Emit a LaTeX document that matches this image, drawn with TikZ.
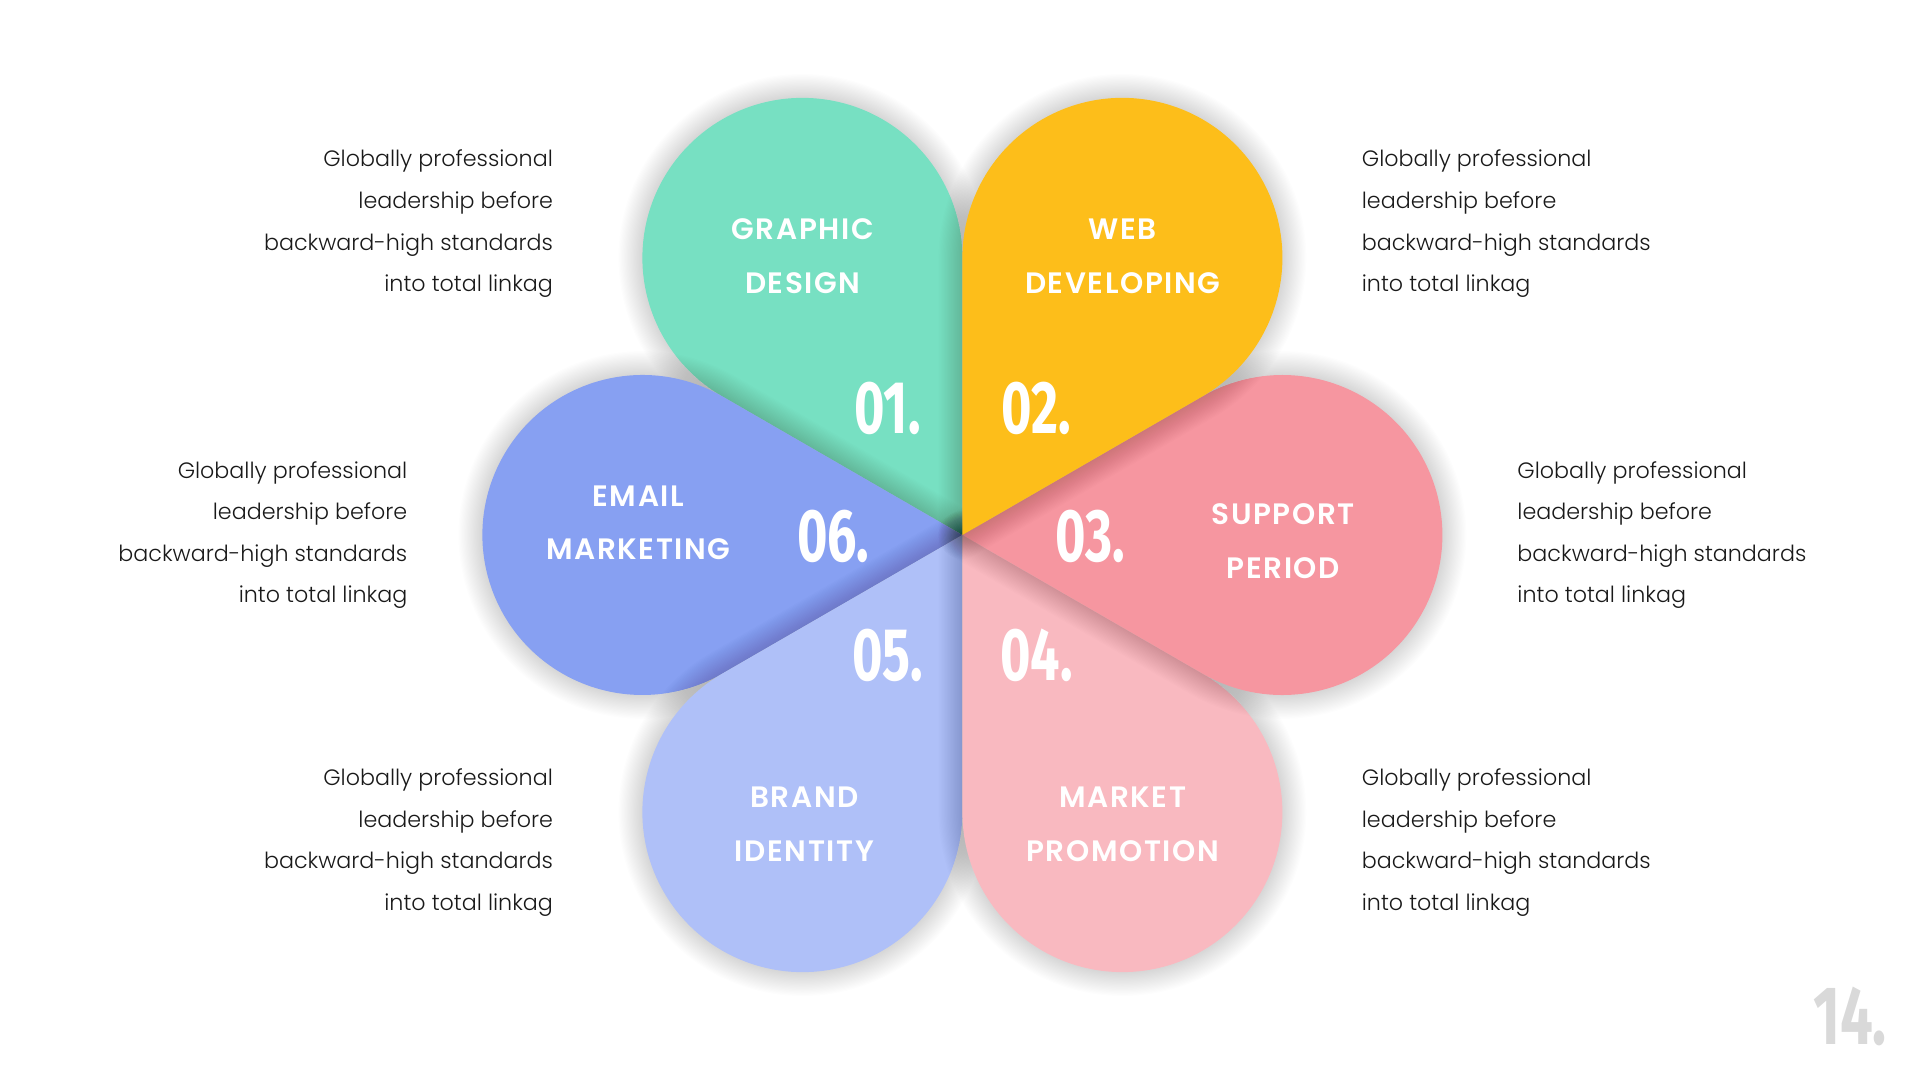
\documentclass[tikz,border=0pt]{standalone}
\usepackage{fontspec}
\setmainfont{Poppins Light}
\newfontfamily\titlefont{Poppins SemiBold}
\newfontfamily\numfont{Fira Sans}[FakeStretch=0.7]
\usepackage{tikz}

\definecolor{mint}{RGB}{119,224,194}
\definecolor{amber}{RGB}{253,190,26}
\definecolor{rose}{RGB}{246,150,160}
\definecolor{blush}{RGB}{249,185,192}
\definecolor{periwinkle}{RGB}{175,192,248}
\definecolor{cornflower}{RGB}{135,160,242}
\definecolor{pagenum}{RGB}{217,217,217}

\begin{document}
\begin{tikzpicture}[
	petalshape/.style={insert path={(0,0) -- (#1-30:6.928) arc[start angle=#1-120, end angle=#1+120, radius=4] -- cycle}},
	shadeline/.style={draw=black, opacity=0.0075, line join=round},
	title/.style={text=white, align=center, inner sep=0pt, font=\titlefont\fontsize{21}{38}\selectfont\addfontfeatures{LetterSpace=5.5}},
	num/.style={text=white, inner sep=0pt, font=\numfont\fontsize{53}{53}\selectfont\bfseries},
	desc/.style={text=black!90, inner sep=0pt, font=\fontsize{15.8}{29.6}\selectfont}]
	\useasboundingbox (-24.06,-13.625) rectangle (23.94,13.375);

	% petals, lowest first, each with its soft shadow
	\foreach \ang/\col in {120/mint, 180/cornflower, -120/periwinkle, -60/blush, 0/rose, 60/amber}{
		\foreach \k in {1,...,20}
			\path[shadeline, line width=\k*1.7pt, petalshape=\ang];
		\fill[\col, petalshape=\ang];
	}

	% titles
	\node[title] (t1) at (-3.99,6.97)  {GRAPHIC\\DESIGN};
	\node[title] (t2) at (4.01,6.97)   {WEB\\DEVELOPING};
	\node[title] (t3) at (8.02,-0.15)  {SUPPORT\\PERIOD};
	\node[title] (t4) at (4.01,-7.23)  {MARKET\\PROMOTION};
	\node[title] (t5) at (-3.95,-7.23) {BRAND\\IDENTITY};
	\node[title] (t6) at (-8.1,0.3)    {EMAIL\\MARKETING};

	% numbers
	\node[num] (n1) at (-1.87,3.17)  {01.};
	\node[num] (n2) at (1.85,3.17)   {02.};
	\node[num] (n3) at (3.2,-0.03)   {03.};
	\node[num] (n4) at (1.85,-3.02)  {04.};
	\node[num] (n5) at (-1.87,-3.02) {05.};
	\node[num] (n6) at (-3.23,-0.03) {06.};

	% descriptions
	\node[desc, anchor=east, align=right] (d1) at (-10.23,7.78) {Globally professional\\leadership before\\backward-high standards\\into total linkag};
	\node[desc, anchor=west, align=left]  (d2) at (9.98,7.78)   {Globally professional\\leadership before\\backward-high standards\\into total linkag};
	\node[desc, anchor=west, align=left]  (d3) at (13.87,0)     {Globally professional\\leadership before\\backward-high standards\\into total linkag};
	\node[desc, anchor=west, align=left]  (d4) at (9.98,-7.69)  {Globally professional\\leadership before\\backward-high standards\\into total linkag};
	\node[desc, anchor=east, align=right] (d5) at (-10.23,-7.69) {Globally professional\\leadership before\\backward-high standards\\into total linkag};
	\node[desc, anchor=east, align=right] (d6) at (-13.87,0)    {Globally professional\\leadership before\\backward-high standards\\into total linkag};

	\node[text=pagenum, inner sep=0pt, font=\numfont\fontsize{59}{59}\selectfont\bfseries] (page) at (22.19,-12.03) {14.};
\end{tikzpicture}
\end{document}
